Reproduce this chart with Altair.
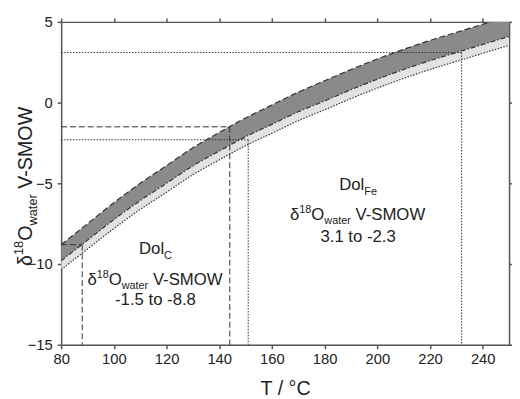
import altair as alt
import pandas as pd

# ---- data ----------------------------------------------------------------
temps = [80, 90, 100, 110, 120, 130, 140, 150, 160, 170, 180, 190, 200, 210, 220, 230, 240, 250]
upper = [-8.8, -7.5, -6.2, -5.0, -3.9, -2.8, -1.85, -0.95, -0.15, 0.65, 1.35, 2.05, 2.7, 3.3, 3.85, 4.35, 4.85, 5.35]
middle = [-9.8, -8.52, -7.25, -6.07, -5.0, -3.92, -3.0, -2.12, -1.35, -0.57, 0.1, 0.8, 1.45, 2.05, 2.6, 3.1, 3.6, 4.1]
lower = [-10.35, -9.07, -7.8, -6.62, -5.55, -4.47, -3.55, -2.67, -1.9, -1.12, -0.45, 0.25, 0.9, 1.5, 2.05, 2.55, 3.05, 3.55]

dolc_T = [88, 144]
dolc_d = [-8.8, -1.5]
dolfe_T = [151, 232]
dolfe_d = [-2.3, 3.1]

x_ticks = [80, 100, 120, 140, 160, 180, 200, 220, 240]
y_ticks = [-15, -10, -5, 0, 5]
x_min, x_max = 80, 250
y_min, y_max = -15, 5

FONT = "Liberation Sans"
INK = "#222222"
AX = "#555555"

curves = pd.DataFrame({"T": temps, "U": upper, "M": middle, "L": lower})

xs = alt.Scale(domain=[x_min, x_max], nice=False, zero=False)
ys = alt.Scale(domain=[y_min, y_max], nice=False, zero=False)

axis_common = dict(domainColor=AX, domainWidth=1.5, tickColor=AX, tickWidth=1.5,
                   tickSize=4, grid=False, labelFont=FONT, labelColor=INK,
                   labelFontSize=15, labelFlush=False, titleFont=FONT, titleColor=INK)

x_bottom = alt.Axis(orient="bottom", values=x_ticks, labelPadding=3,
                    title="T / °C", titleFontSize=20, titleFontWeight="normal",
                    titlePadding=13, **axis_common)
y_left = alt.Axis(orient="left", values=y_ticks, labelPadding=5, title=None, **axis_common)
x_top = alt.Axis(orient="top", values=x_ticks, labels=False, title=None, **axis_common)
y_right = alt.Axis(orient="right", values=y_ticks, labels=False, title=None, **axis_common)

light = alt.Chart(curves).mark_area(color="#e2e2e2", interpolate="monotone", clip=True).encode(
    x=alt.X("T:Q", scale=xs, axis=x_bottom),
    y=alt.Y("M:Q", scale=ys, axis=y_left),
    y2="L:Q",
)
dark = alt.Chart(curves).mark_area(color="#8a8a8a", interpolate="monotone", clip=True).encode(
    x=alt.X("T:Q", scale=xs, axis=x_top),
    y=alt.Y("U:Q", scale=ys, axis=y_right),
    y2="M:Q",
)

def curve(field, dash, width=1.2):
    return alt.Chart(curves).mark_line(color="#333333", strokeWidth=width, strokeDash=dash,
                                       interpolate="monotone", clip=True).encode(
        x=alt.X("T:Q", scale=xs, axis=None),
        y=alt.Y(f"{field}:Q", scale=ys, axis=None),
    )

l_up = curve("U", [6, 3])
l_mid = curve("M", [5, 2, 1.5, 2])
l_low = curve("L", [1.5, 1.5])

def guide_rows(Ts, ds):
    rows = []
    for t, d in zip(Ts, ds):
        rows.append({"x": x_min, "x2": t, "y": d, "y2": d})
        rows.append({"x": t, "x2": t, "y": d, "y2": y_min})
    return pd.DataFrame(rows)

def guides(Ts, ds, dash):
    return alt.Chart(guide_rows(Ts, ds)).mark_rule(color="#333333", strokeWidth=1, strokeDash=dash).encode(
        x=alt.X("x:Q", scale=xs, axis=None), x2="x2:Q",
        y=alt.Y("y:Q", scale=ys, axis=None), y2="y2:Q",
    )

g_c = guides(dolc_T, dolc_d, [6, 3])
g_fe = guides(dolfe_T, dolfe_d, [1.5, 1.5])

# ---- rich text helpers ---------------------------------------------------
W = {'D': 722, 'o': 556, 'l': 222, 'C': 722, 'F': 611, 'e': 556, 'δ': 556, '1': 556,
     '8': 556, 'O': 778, 'w': 722, 'a': 556, 't': 278, 'r': 333, ' ': 278, 'V': 667,
     '-': 333, 'S': 667, 'M': 833, 'W': 944, '.': 278}

def tw(s, size):
    return sum(W.get(c, 556) for c in s) / 1000.0 * size

one = pd.DataFrame({"k": [0]})

def rich(parts, main, T, v):
    """horizontal rich text centred on (T, v) in data coordinates"""
    small = round(main * 0.65)
    widths = [tw(t, small if k != "n" else main) for t, k in parts]
    off = -sum(widths) / 2
    layers = []
    for (t, k), w in zip(parts, widths):
        size = main if k == "n" else small
        dy = {"n": 0, "sup": -main * 0.42, "sub": main * 0.26}[k]
        lead = tw(t[: len(t) - len(t.lstrip())], size)
        layers.append(alt.Chart(one).mark_text(
            text=t.strip(), font=FONT, fontSize=size, color=INK, align="left",
            baseline="alphabetic", dx=off + lead, dy=dy).encode(
            x=alt.X(datum=T, scale=xs, axis=None), y=alt.Y(datum=v, scale=ys, axis=None)))
        off += w
    return layers

def rich_vertical(parts, main, px, py):
    """rotated (reads bottom to top) rich text starting at pixel (px, py) of the plot"""
    small = round(main * 0.65)
    off = 0.0
    layers = []
    for t, k in parts:
        size = main if k == "n" else small
        shift = {"n": 0, "sup": -main * 0.42, "sub": main * 0.26}[k]
        lead = tw(t[: len(t) - len(t.lstrip())], size)
        layers.append(alt.Chart(one).mark_text(
            text=t.strip(), font=FONT, fontSize=size, color=INK, align="left",
            baseline="alphabetic", angle=270).encode(
            x=alt.value(px + shift), y=alt.value(py - off - lead)))
        off += tw(t, size)
    return layers

def plain(text, main, T, v):
    return alt.Chart(one).mark_text(text=text, font=FONT, fontSize=main, color=INK,
                                    align="center", baseline="alphabetic").encode(
        x=alt.X(datum=T, scale=xs, axis=None), y=alt.Y(datum=v, scale=ys, axis=None))

delta_line = [("δ", "n"), ("18", "sup"), ("O", "n"), ("water", "sub"), (" V-SMOW", "n")]

ann = []
# Dol_C block
ann += rich([("Dol", "n"), ("C", "sub")], 17, 115.8, -9.39)
ann += rich(delta_line, 17, 115.8, -11.28)
ann.append(plain("-1.5 to -8.8", 17, 115.8, -12.56))
# Dol_Fe block
ann += rich([("Dol", "n"), ("Fe", "sub")], 17, 192.7, -5.43)
ann += rich(delta_line, 17, 192.7, -7.26)
ann.append(plain("3.1 to -2.3", 17, 192.7, -8.66))
# rotated y-axis title
ann += rich_vertical(delta_line, 20, -30, 248)

chart = alt.layer(light, dark, l_low, l_mid, l_up, g_c, g_fe, *ann).resolve_axis(
    x="independent", y="independent"
).properties(
    width=455, height=328,
    padding={"left": 54, "top": 11, "right": 3, "bottom": 52},
    autosize=alt.AutoSizeParams(type="none"),
).configure_view(stroke=None).configure(background="white")

chart.save("out.html", embed_options={"renderer": "svg", "actions": False})
